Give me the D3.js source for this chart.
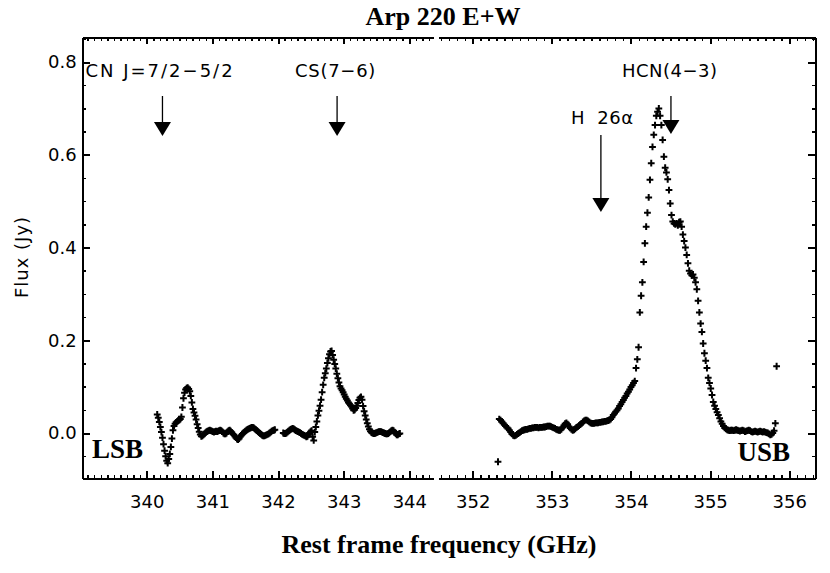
<!DOCTYPE html>
<meta charset="utf-8">
<style>
body { margin: 0; background: #fff; }
svg { display: block; }
.axis path, .axis line { fill: none; stroke: #000; stroke-width: 2px; shape-rendering: crispEdges; }
.minor line { stroke-width: 1.5px; }
.axis text { font-family: "DejaVu Sans", sans-serif; font-size: 18px; fill: #000; }
.note { font-family: "DejaVu Sans", sans-serif; font-size: 18px; fill: #000; white-space: pre; letter-spacing: 0.5px; }
.serif { font-family: "Liberation Serif", "Times New Roman", serif; font-weight: bold; fill: #000; }
.pt { fill: none; stroke: #000; stroke-width: 2px; }
</style>
<body>
<script src="https://d3js.org/d3.v7.min.js"></script>
<script>
// channel width of the spectra (GHz)
var channelWidth = 0.016;

// LSB, first chunk (CN)
var lsb1Start = 340.16;
var lsb1Flux = [
  0.040,0.033,0.024,0.013,0.002,-0.010,-0.024,-0.038,-0.050,-0.060,
  -0.065,-0.056,-0.045,-0.030,-0.012,0.006,0.015,0.020,0.023,0.025,
  0.027,0.028,0.030,0.035,0.055,0.075,0.087,0.094,0.097,0.098,
  0.095,0.090,0.080,0.066,0.052,0.044,0.037,0.029,0.019,0.011,
  0.003,-0.003,-0.007,-0.006,-0.004,-0.002,0.001,0.003,0.004,0.005,
  0.006,0.005,0.004,0.003,0.002,0.003,0.004,0.003,0.004,0.005,
  0.006,0.005,0.003,0.000,-0.002,-0.002,0.000,0.003,0.005,0.006,
  0.004,0.001,-0.002,-0.004,-0.007,-0.010,-0.013,-0.014,-0.012,-0.008,
  -0.005,-0.002,0.000,0.002,0.004,0.006,0.008,0.009,0.010,0.011,
  0.012,0.012,0.011,0.009,0.007,0.005,0.003,0.001,-0.001,-0.003,
  -0.005,-0.006,-0.006,-0.005,-0.004,-0.003,-0.002,0.000,0.002,0.004,
  0.005,0.006,0.007
];

// LSB, second chunk (CS)
var lsb2Start = 342.08;
var lsb2Flux = [
  0.000,-0.001,-0.001,0.000,0.002,0.004,0.006,0.008,0.009,0.010,
  0.009,0.007,0.005,0.004,0.003,0.002,0.001,-0.001,-0.003,-0.004,
  -0.005,-0.006,-0.008,-0.007,-0.004,0.000,0.003,0.005,-0.008,-0.016,
  0.002,0.013,0.025,0.038,0.048,0.059,0.072,0.088,0.104,0.119,
  0.129,0.139,0.151,0.161,0.170,0.176,0.177,0.168,0.158,0.149,
  0.139,0.128,0.118,0.109,0.101,0.096,0.092,0.088,0.083,0.078,
  0.074,0.070,0.066,0.063,0.060,0.057,0.053,0.049,0.050,0.054,
  0.059,0.065,0.071,0.076,0.078,0.072,0.058,0.047,0.038,0.029,
  0.021,0.014,0.008,0.004,0.001,0.000,-0.001,-0.001,0.000,0.001,
  0.002,0.003,0.003,0.003,0.002,0.001,0.000,-0.001,-0.002,-0.002,
  -0.001,0.001,0.003,0.005,0.006,0.005,0.002,-0.001,-0.004,-0.004,
  -0.002,-0.001
];

// USB (H26alpha + HCN)
var usbStart = 352.32;
var usbFlux = [
  -0.062,0.030,0.028,0.025,0.021,0.018,0.015,0.012,0.010,0.006,
  0.002,-0.002,-0.005,-0.006,-0.005,-0.003,-0.001,0.001,0.003,0.005,
  0.006,0.007,0.008,0.008,0.009,0.010,0.010,0.011,0.011,0.012,
  0.012,0.012,0.011,0.012,0.012,0.012,0.013,0.013,0.014,0.015,
  0.015,0.015,0.014,0.012,0.011,0.010,0.008,0.007,0.006,0.006,
  0.008,0.012,0.016,0.020,0.022,0.019,0.014,0.011,0.008,0.006,
  0.007,0.009,0.012,0.014,0.016,0.018,0.021,0.024,0.026,0.028,
  0.028,0.026,0.024,0.022,0.021,0.021,0.021,0.022,0.022,0.022,
  0.023,0.023,0.024,0.024,0.025,0.025,0.026,0.027,0.028,0.030,
  0.034,0.039,0.042,0.046,0.049,0.053,0.058,0.062,0.067,0.071,
  0.076,0.080,0.085,0.089,0.094,0.099,0.103,0.108,0.112,0.140,
  0.159,0.185,0.260,0.296,0.325,0.369,0.409,0.445,0.475,0.508,
  0.546,0.582,0.617,0.643,0.664,0.684,0.693,0.700,0.684,0.664,
  0.632,0.596,0.572,0.562,0.547,0.524,0.495,0.470,0.456,0.452,
  0.450,0.452,0.448,0.455,0.456,0.445,0.428,0.414,0.400,0.384,
  0.366,0.350,0.344,0.340,0.342,0.335,0.325,0.310,0.285,0.260,
  0.236,0.218,0.193,0.172,0.156,0.140,0.119,0.108,0.096,0.082,
  0.067,0.059,0.052,0.045,0.039,0.032,0.025,0.020,0.015,0.011,
  0.009,0.007,0.006,0.005,0.006,0.006,0.005,0.006,0.007,0.006,
  0.005,0.004,0.005,0.006,0.005,0.003,0.004,0.005,0.006,0.005,
  0.003,0.002,0.003,0.004,0.003,0.002,0.003,0.004,0.003,0.002,
  0.003,0.002,0.001,0.000,-0.002,-0.004,-0.003,0.000,0.005,0.021,
  0.144
];

var lsbTicks = [340, 341, 342, 343, 344];
var usbTicks = [352, 353, 354, 355, 356];
var fluxTicks = [0.0, 0.2, 0.4, 0.6, 0.8];

var lineNames = ["CN J=7/2\u22125/2", "CS(7\u22126)", "H  26\u03b1", "HCN(4\u22123)"];
var lineFreqs = [340.24, 342.90, 353.62, 354.505];
var lineBands = ["LSB", "LSB", "USB", "USB"];

var width = 830, height = 573;
var plotTop = 37, plotBottom = 478;

var svg = d3.select("body").append("svg")
    .attr("width", width)
    .attr("height", height);

var y = d3.scaleLinear().domain([-0.097, 0.854]).range([plotBottom, plotTop]);
var xL = d3.scaleLinear().domain([339.025, 344.361]).range([82.7, 433]);
var xU = d3.scaleLinear().domain([351.562, 356.325]).range([438, 815]);
var scales = {LSB: xL, USB: xU};

function spectrum(start, flux) {
  return flux.map(function (v, i) { return [start + i * channelWidth, v]; });
}

// x axes, bottom and top, one pair per sideband
[[xL, lsbTicks], [xU, usbTicks]].forEach(function (p) {
  var x = p[0];
  svg.append("g").attr("class", "axis minor")
      .attr("transform", "translate(0," + plotBottom + ")")
      .call(d3.axisBottom(x).tickValues(x.ticks(50)).tickSizeInner(-3.5).tickSizeOuter(0).tickFormat(""));
  svg.append("g").attr("class", "axis")
      .attr("transform", "translate(0," + plotBottom + ")")
      .call(d3.axisBottom(x).tickValues(p[1]).tickSizeInner(-7).tickSizeOuter(0).tickPadding(17).tickFormat(d3.format("d")));
  svg.append("g").attr("class", "axis minor")
      .attr("transform", "translate(0," + plotTop + ")")
      .call(d3.axisTop(x).tickValues(x.ticks(50)).tickSizeInner(-3.5).tickSizeOuter(0).tickFormat(""));
  svg.append("g").attr("class", "axis")
      .attr("transform", "translate(0," + plotTop + ")")
      .call(d3.axisTop(x).tickValues(p[1]).tickSizeInner(-7).tickSizeOuter(0).tickFormat(""));
});

// y axes, left and right
svg.append("g").attr("class", "axis minor")
    .attr("transform", "translate(82.7,0)")
    .call(d3.axisLeft(y).tickValues(y.ticks(20)).tickSizeInner(-3.5).tickSizeOuter(0).tickFormat(""));
svg.append("g").attr("class", "axis")
    .attr("transform", "translate(82.7,0)")
    .call(d3.axisLeft(y).tickValues(fluxTicks).tickSizeInner(-7).tickSizeOuter(0).tickPadding(6).tickFormat(d3.format(".1f")));
svg.append("g").attr("class", "axis minor")
    .attr("transform", "translate(815,0)")
    .call(d3.axisRight(y).tickValues(y.ticks(20)).tickSizeInner(-3.5).tickSizeOuter(0).tickFormat(""));
svg.append("g").attr("class", "axis")
    .attr("transform", "translate(815,0)")
    .call(d3.axisRight(y).tickValues(fluxTicks).tickSizeInner(-7).tickSizeOuter(0).tickFormat(""));

// data points as plus signs
var plus = "M-3.4,0H3.4M0,-3.4V3.4";
[[xL, spectrum(lsb1Start, lsb1Flux)],
 [xL, spectrum(lsb2Start, lsb2Flux)],
 [xU, spectrum(usbStart, usbFlux)]].forEach(function (p) {
  var x = p[0];
  svg.append("g").selectAll("path")
      .data(p[1])
      .enter().append("path")
      .attr("class", "pt")
      .attr("transform", function (d) { return "translate(" + x(d[0]) + "," + y(d[1]) + ")"; })
      .attr("d", plus);
});

// line markers: label, shaft and arrow head
var arrowLayout = [
  {labelDx: -77, labelY: 77, y0: 96, y1: 122, spacing: "2px"},
  {labelDx: -42, labelY: 77, y0: 96, y1: 122, spacing: "0.7px"},
  {labelDx: -30, labelY: 124, y0: 135, y1: 198, spacing: "0.5px"},
  {labelDx: -49, labelY: 77, y0: 96, y1: 120, spacing: "0.5px"}
];
lineNames.forEach(function (name, i) {
  var x = scales[lineBands[i]](lineFreqs[i]);
  var a = arrowLayout[i];
  svg.append("text").attr("class", "note")
      .attr("x", x + a.labelDx).attr("y", a.labelY)
      .style("letter-spacing", a.spacing)
      .text(name);
  svg.append("line")
      .attr("x1", x).attr("x2", x).attr("y1", a.y0).attr("y2", a.y1 + 2)
      .attr("stroke", "#000").attr("stroke-width", 1.3);
  svg.append("path")
      .attr("d", "M" + (x - 8.5) + "," + a.y1 + "L" + (x + 8.5) + "," + a.y1 + "L" + x + "," + (a.y1 + 14) + "Z")
      .attr("fill", "#000");
});

// titles
svg.append("text").attr("class", "serif")
    .attr("x", 443).attr("y", 25).attr("text-anchor", "middle")
    .style("font-size", "26px").text("Arp 220 E+W");
svg.append("text").attr("class", "serif")
    .attr("x", 439).attr("y", 553).attr("text-anchor", "middle")
    .style("font-size", "26px").text("Rest frame frequency (GHz)");
svg.append("text").attr("class", "serif")
    .attr("x", 92).attr("y", 458)
    .style("font-size", "27px").text("LSB");
svg.append("text").attr("class", "serif")
    .attr("x", 790).attr("y", 461).attr("text-anchor", "end")
    .style("font-size", "27px").text("USB");
svg.append("text").attr("class", "note")
    .attr("transform", "translate(28,257) rotate(-90)")
    .attr("text-anchor", "middle")
    .style("letter-spacing", "1px")
    .text("Flux (Jy)");
</script>
